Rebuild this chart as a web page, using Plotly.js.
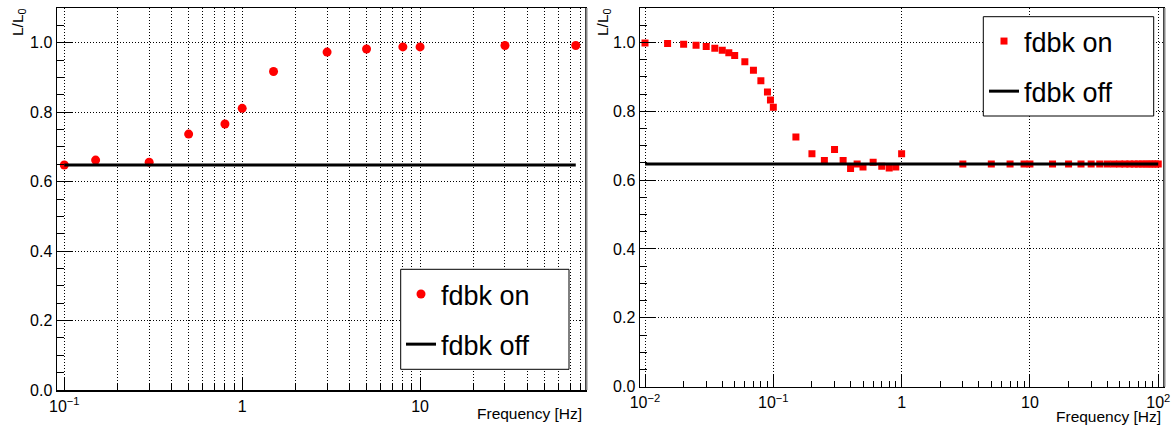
<!DOCTYPE html>
<html>
<head>
<meta charset="utf-8">
<script src="https://cdn.plot.ly/plotly-3.0.1.min.js"></script>
<style>html,body{margin:0;padding:0;background:#fff;}#chart{width:1172px;height:425px;}</style>
</head>
<body>
<div id="chart"></div>
<script>
// ---- data ----
const freqL  = [0.1, 0.15, 0.3, 0.5, 0.8, 1.0, 1.5, 3, 5, 8, 10, 30, 75];
const ratioL = [0.648, 0.662, 0.656, 0.737, 0.766, 0.811, 0.917, 0.973, 0.982, 0.988, 0.988, 0.992, 0.992];
const offFreqL  = [0.1, 75];
const offRatioL = [0.648, 0.648];

const freqR  = [0.01, 0.015, 0.02, 0.025, 0.03, 0.035, 0.04, 0.045, 0.05, 0.06, 0.07, 0.08, 0.09, 0.095, 0.1,
                0.15, 0.2, 0.25, 0.3, 0.35, 0.4, 0.45, 0.5, 0.6, 0.7, 0.8, 0.9, 1.0,
                3, 5, 7, 9, 10, 15, 20, 25, 30, 35, 40, 45, 50, 55, 60, 65, 70, 75, 80, 85, 90, 95, 100];
const ratioR = [0.998, 0.997, 0.995, 0.992, 0.988, 0.983, 0.977, 0.970, 0.962, 0.944, 0.919, 0.889, 0.856, 0.833, 0.812,
                0.725, 0.677, 0.657, 0.689, 0.657, 0.634, 0.647, 0.638, 0.652, 0.640, 0.635, 0.638, 0.677,
                0.647, 0.647, 0.647, 0.647, 0.647, 0.647, 0.647, 0.647, 0.647, 0.647, 0.647, 0.647, 0.647, 0.647,
                0.647, 0.647, 0.647, 0.647, 0.647, 0.647, 0.647, 0.647, 0.647];
const offFreqR  = [0.01, 100];
const offRatioR = [0.647, 0.647];

const tickValsL = [0.1, 1, 10];
const tickTextL = ['10<sup>\u22121</sup>', '1', '10'];
const tickValsR = [0.01, 0.1, 1, 10, 100];
const tickTextR = ['10<sup>\u22122</sup>', '10<sup>\u22121</sup>', '1', '10', '10<sup>2</sup>'];

const seriesOn = 'fdbk on';
const seriesOff = 'fdbk off';
const xTitle = 'Frequency [Hz]';
const yTitle = 'L/L<sub>0</sub>';

// ---- layout helpers ----
const W = 1172, H = 425;
const px = v => v / W;
const py = v => 1 - v / H;

function minorLog(lo, hi) {
  const out = [];
  for (let e = lo; e < hi; e++) {
    for (let d = 2; d <= 9; d++) out.push(d * Math.pow(10, e));
  }
  return out;
}

const FONT = 'Liberation Sans, Arial, Helvetica, sans-serif';
const gridCol = '#000';
const gridDash = '1px,2px';

function xAxis(domain, range, tv, tt, minorGrid) {
  return {
    type: 'log', domain: domain, range: range,
    tickmode: 'array', tickvals: tv, ticktext: tt,
    ticks: 'inside', ticklen: 12, tickwidth: 1, tickcolor: '#000',
    showline: true, linecolor: '#000', linewidth: 1.5, mirror: true,
    showgrid: true, gridcolor: gridCol, gridwidth: 1, griddash: gridDash,
    zeroline: false,
    tickfont: {family: FONT, size: 16, color: '#000'},
    ticklabelstandoff: 1,
    minor: {tickmode: 'array', tickvals: minorLog(-3, 3), ticks: 'inside', ticklen: 6,
            tickcolor: '#000', tickwidth: 1, showgrid: minorGrid,
            gridcolor: gridCol, gridwidth: 1, griddash: gridDash}
  };
}
function yAxis(domain) {
  return {
    domain: domain, range: [0, 1.1],
    tickmode: 'linear', tick0: 0, dtick: 0.2, tickformat: '.1f',
    ticks: 'inside', ticklen: 15, tickwidth: 1, tickcolor: '#000',
    showline: true, linecolor: '#000', linewidth: 1.5, mirror: true,
    showgrid: true, gridcolor: gridCol, gridwidth: 1, griddash: gridDash,
    zeroline: false,
    tickfont: {family: FONT, size: 16, color: '#000'},
    minor: {dtick: 0.05, ticks: 'inside', ticklen: 7, tickcolor: '#000', tickwidth: 1, showgrid: false}
  };
}

const xa = xAxis([px(57), px(585)], [-1.041, 1.927], tickValsL, tickTextL, true);
xa.anchor = 'y';
const xa2 = xAxis([px(640), px(1163)], [-2.039, 2.037], tickValsR, tickTextR, false);
xa2.anchor = 'y2';
const ya = yAxis([py(390), py(8)]); ya.anchor = 'x';
const ya2 = yAxis([py(386.7), py(8)]); ya2.anchor = 'x2';

const traces = [
  {x: freqL, y: ratioL, type: 'scatter', mode: 'markers', name: seriesOn,
   marker: {symbol: 'circle', size: 9, color: '#ff0000'},
   xaxis: 'x', yaxis: 'y', legend: 'legend', legendgroup: 'a', legendrank: 1, hoverinfo: 'skip'},
  {x: offFreqL, y: offRatioL, type: 'scatter', mode: 'lines', name: seriesOff,
   line: {color: '#000', width: 3},
   xaxis: 'x', yaxis: 'y', legend: 'legend', legendgroup: 'b', legendrank: 2, hoverinfo: 'skip'},
  {x: freqR, y: ratioR, type: 'scatter', mode: 'markers', name: seriesOn,
   marker: {symbol: 'square', size: 7, color: '#ff0000'},
   xaxis: 'x2', yaxis: 'y2', legend: 'legend2', legendgroup: 'c', legendrank: 1, hoverinfo: 'skip'},
  {x: offFreqR, y: offRatioR, type: 'scatter', mode: 'lines', name: seriesOff,
   line: {color: '#000', width: 3},
   xaxis: 'x2', yaxis: 'y2', legend: 'legend2', legendgroup: 'd', legendrank: 2, hoverinfo: 'skip'}
];

const legendCommon = {
  xanchor: 'left', yanchor: 'top', bgcolor: 'rgba(0,0,0,0)', borderwidth: 0,
  font: {family: FONT, size: 27, color: '#000'}, tracegroupgap: 12, traceorder: 'grouped'
};

const layout = {
  width: W, height: H,
  margin: {l: 0, r: 0, t: 0, b: 0},
  paper_bgcolor: '#fff', plot_bgcolor: '#fff',
  showlegend: true,
  xaxis: xa, yaxis: ya, xaxis2: xa2, yaxis2: ya2,
  legend: Object.assign({x: px(401), y: py(270)}, legendCommon),
  legend2: Object.assign({x: px(984), y: py(17)}, legendCommon),
  shapes: [
    {type: 'rect', xref: 'paper', yref: 'paper', x0: px(400.7), x1: px(569), y0: py(369.3), y1: py(269.3),
     line: {color: '#000', width: 1}, fillcolor: '#fff', layer: 'above'},
    {type: 'rect', xref: 'paper', yref: 'paper', x0: px(983.3), x1: px(1153.7), y0: py(116), y1: py(16.7),
     line: {color: '#000', width: 1}, fillcolor: '#fff', layer: 'above'},
    {type: 'line', xref: 'paper', yref: 'paper', x0: px(586.5), x1: px(586.5), y0: py(390), y1: py(8),
     line: {color: '#888', width: 2}, layer: 'above'},
    {type: 'line', xref: 'paper', yref: 'paper', x0: px(1164.5), x1: px(1164.5), y0: py(386.7), y1: py(8),
     line: {color: '#888', width: 2}, layer: 'above'}
  ],
  annotations: [
    {text: xTitle, xref: 'paper', yref: 'paper', x: px(584), y: py(413), xanchor: 'right', yanchor: 'middle',
     showarrow: false, font: {family: FONT, size: 15.5, color: '#000'}},
    {text: xTitle, xref: 'paper', yref: 'paper', x: px(1163), y: py(416), xanchor: 'right', yanchor: 'middle',
     showarrow: false, font: {family: FONT, size: 15.5, color: '#000'}},
    {text: yTitle, xref: 'paper', yref: 'paper', x: px(18), y: py(6), xanchor: 'center', yanchor: 'top',
     textangle: -90, showarrow: false, font: {family: FONT, size: 15.5, color: '#000'}},
    {text: yTitle, xref: 'paper', yref: 'paper', x: px(603), y: py(6), xanchor: 'center', yanchor: 'top',
     textangle: -90, showarrow: false, font: {family: FONT, size: 15.5, color: '#000'}}
  ]
};

Plotly.newPlot('chart', traces, layout, {staticPlot: true, displayModeBar: false});
</script>
</body>
</html>
